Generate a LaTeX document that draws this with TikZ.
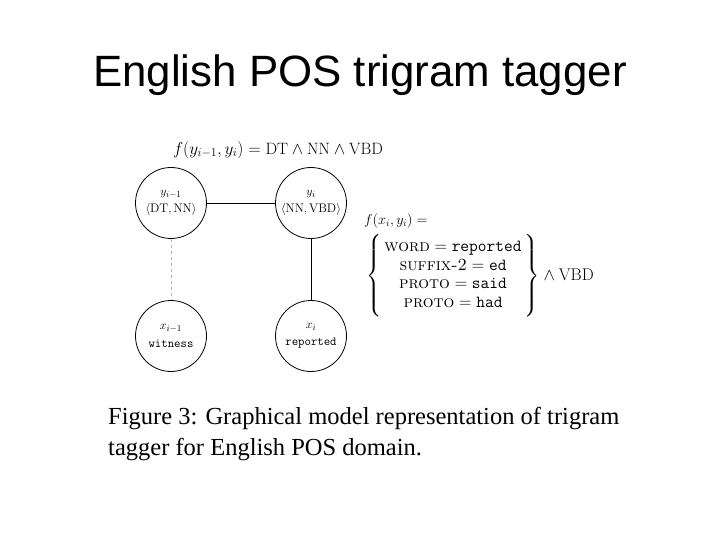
\documentclass[tikz,border=0pt]{standalone}
\usepackage{fontspec}
\newfontfamily\titlefont{Liberation Sans}
\newfontfamily\capfont{Liberation Serif}
\usepackage{amsmath}
\begin{document}
\begin{tikzpicture}[x=1bp,y=-1bp,
  gnode/.style={draw,circle,minimum size=71bp,inner sep=0pt,align=center,font=\fontsize{12.5}{17.5}\selectfont,line width=0.8bp},
  edge/.style={line width=0.8bp},
  dedge/.style={draw=gray!60,dashed,line width=0.6bp},
  mathtxt/.style={inner sep=0pt}]
\useasboundingbox (0,0) rectangle (720,540);
\node[font=\titlefont\fontsize{44}{48}\selectfont,anchor=base] (title) at (360,87) {English POS trigram tagger};
\node[mathtxt,font=\fontsize{16.5}{20}\selectfont] (f1) at (278,150) {$f(y_{i-1},y_i)=\mathrm{DT}\wedge\mathrm{NN}\wedge\mathrm{VBD}$};
\node[gnode] (y1) at (171,203) {$y_{i-1}$\\$\langle\mathrm{DT},\mathrm{NN}\rangle$};
\node[gnode] (y2) at (311,203) {$y_{i}$\\$\langle\mathrm{NN},\mathrm{VBD}\rangle$};
\node[gnode] (x1) at (171,336) {$x_{i-1}$\\\texttt{witness}};
\node[gnode] (x2) at (311,336) {$x_{i}$\\\texttt{reported}};
\draw[edge] (y1) -- (y2);
\draw[edge] (y2) -- (x2);
\draw[dedge] (y1) -- (x1);
\node[mathtxt,anchor=west,font=\fontsize{14}{17}\selectfont] (f2) at (364,221) {$f(x_i,y_i)=$};
\node[mathtxt,anchor=west,font=\fontsize{17}{18.6}\selectfont] (feat) at (366,276) {\delimitershortfall=-4pt\setlength{\arraycolsep}{3pt}$\left\{\begin{array}{c}
\textsc{word}=\texttt{reported}\\
\textsc{suffix-2}=\texttt{ed}\\
\textsc{proto}=\texttt{said}\\
\textsc{proto}=\texttt{had}
\end{array}\right\}\wedge\mathrm{VBD}$};
\node[font=\capfont\fontsize{24.6}{31}\selectfont,anchor=north west,align=left,inner sep=0pt] (cap) at (108,407) {Figure 3: Graphical model representation of trigram\\tagger for English POS domain.};
\end{tikzpicture}
\end{document}
